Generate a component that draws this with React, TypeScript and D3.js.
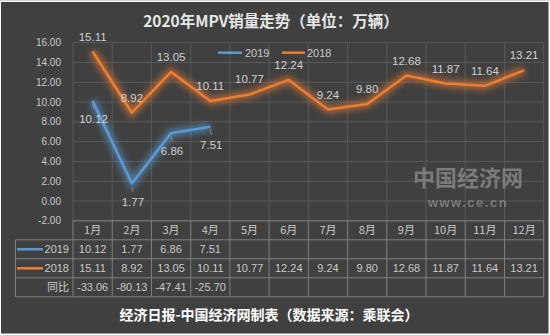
import React from 'react';
import * as d3 from 'd3';

const months = ['1月', '2月', '3月', '4月', '5月', '6月', '7月', '8月', '9月', '10月', '11月', '12月'];
const v2019 = [10.12, 1.77, 6.86, 7.51];
const v2018 = [15.11, 8.92, 13.05, 10.11, 10.77, 12.24, 9.24, 9.8, 12.68, 11.87, 11.64, 13.21];
const yoy = [-33.06, -80.13, -47.41, -25.7];
const yTicks = [-2, 0, 2, 4, 6, 8, 10, 12, 14, 16];
const seriesNames = ['2019', '2018'];
const title = '2020年MPV销量走势（单位：万辆）';
const footer = '经济日报-中国经济网制表（数据来源：乘联会）';

const W = 550, H = 336;
const BLUE = '#5b9bd5', ORANGE = '#ed7d31';
const numFont = '"Liberation Sans", Arial, sans-serif';
const cjkFont = '"Noto Sans CJK SC", sans-serif';

export default function App() {
  const x = d3.scaleBand<string>().domain(months).range([73, 543.7]);
  const y = d3.scaleLinear().domain([-2, 16]).range([220.8, 42.7]);
  const cx = (i: number) => (x(months[i]) as number) + x.bandwidth() / 2;
  const line = d3.line<number>().x((_, i) => cx(i)).y(d => y(d));
  const fmt = (v: number) => v.toFixed(2);
  const rowH = 19;
  const tTop = y(-2);
  const tLeft = 15.5;
  const tRight = 543.7;
  const grid = '#595959';
  const tblLine = '#7f7f7f';
  const txt = '#c9c9c9';

  return (
    <div style={{ position: 'fixed', left: 0, top: 0 }}>
      <svg width={W} height={H} style={{ display: 'block' }}>
        <defs>
          <filter id="glow" x="-20%" y="-20%" width="140%" height="140%">
            <feGaussianBlur stdDeviation="3" />
          </filter>
        </defs>
        <rect x={0} y={0} width={W} height={H} fill="#ffffff" />
        <line x1={0} x2={W} y1={0.5} y2={0.5} stroke="#d0d0d0" />
        <line x1={0} x2={W} y1={335.5} y2={335.5} stroke="#d0d0d0" />
        <rect x={1} y={2} width={547.5} height={331.5} fill="#404040" />

        <text x={271} y={27} textAnchor="middle" fontFamily={cjkFont} fontWeight="bold" fontSize={15.5} fill="#e6e6e6">{title}</text>

        {/* grid */}
        {yTicks.map(t => (
          <line key={'h' + t} x1={73} x2={tRight} y1={y(t)} y2={y(t)} stroke={grid} strokeWidth={1} />
        ))}
        {d3.range(13).map(i => {
          const xv = 73 + i * x.bandwidth();
          return <line key={'v' + i} x1={xv} x2={xv} y1={y(16)} y2={tTop} stroke={grid} strokeWidth={1} />;
        })}
        {yTicks.map(t => (
          <text key={'yt' + t} x={61} y={y(t)} dy="0.35em" textAnchor="end" fontFamily={numFont} fontSize={10} fill={txt}>{fmt(t)}</text>
        ))}

        {/* legend */}
        <line x1={218} x2={242} y1={52.7} y2={52.7} stroke={BLUE} strokeWidth={2.5} />
        <text x={245} y={52.7} dy="0.35em" fontFamily={numFont} fontSize={11} fill={txt}>{seriesNames[0]}</text>
        <line x1={282} x2={305} y1={52.7} y2={52.7} stroke={ORANGE} strokeWidth={2.5} />
        <text x={307} y={52.7} dy="0.35em" fontFamily={numFont} fontSize={11} fill={txt}>{seriesNames[1]}</text>

        {/* lines with glow */}
        <path d={line(v2018) || ''} fill="none" stroke={ORANGE} strokeWidth={8} opacity={0.6} filter="url(#glow)" />
        <path d={line(v2019) || ''} fill="none" stroke={BLUE} strokeWidth={8} opacity={0.6} filter="url(#glow)" />
        <path d={line(v2018) || ''} fill="none" stroke={ORANGE} strokeWidth={2.5} strokeLinejoin="round" />
        <path d={line(v2019) || ''} fill="none" stroke={BLUE} strokeWidth={2.5} strokeLinejoin="round" />

        {/* labels */}
        {v2018.map((v, i) => (
          <text key={'l18' + i} x={cx(i)} y={y(v) - 15} dy="0.35em" textAnchor="middle" fontFamily={numFont} fontSize={11.5} fill="#d0d0d0">{fmt(v)}</text>
        ))}
        {v2019.map((v, i) => (
          <g key={'l19' + i}>
            <line x1={cx(i)} x2={cx(i) + 1} y1={y(v) + 3} y2={y(v) + 8} stroke="#8c8c8c" strokeWidth={1} />
            <text x={cx(i) + 1} y={y(v) + 18} dy="0.35em" textAnchor="middle" fontFamily={numFont} fontSize={11.5} fill="#d0d0d0">{fmt(v)}</text>
          </g>
        ))}

        {/* watermark */}
        <text x={468} y={186} textAnchor="middle" fontFamily={cjkFont} fontWeight="bold" fontSize={22} fill="#8a8a8a" opacity={0.8}>中国经济网</text>
        <text x={468} y={207} textAnchor="middle" fontFamily={numFont} fontWeight="bold" fontSize={13} letterSpacing={1.5} fill="#8a8a8a" opacity={0.8}>www.ce.cn</text>

        {/* table */}
        <g stroke={tblLine} strokeWidth={1}>
          <line x1={73} x2={tRight} y1={tTop} y2={tTop} />
          {d3.range(1, 5).map(r => (
            <line key={'tr' + r} x1={tLeft} x2={tRight} y1={tTop + r * rowH} y2={tTop + r * rowH} />
          ))}
          <line x1={tLeft} x2={tLeft} y1={tTop + rowH} y2={tTop + 4 * rowH} />
          {d3.range(13).map(i => {
            const xv = 73 + i * x.bandwidth();
            return <line key={'tc' + i} x1={xv} x2={xv} y1={tTop} y2={tTop + 4 * rowH} />;
          })}
        </g>
        {months.map((m, i) => (
          <text key={'m' + i} x={cx(i)} y={tTop + rowH / 2} dy="0.35em" textAnchor="middle" fontFamily={cjkFont} fontSize={11} fill={txt}>{m}</text>
        ))}
        <line x1={17} x2={43} y1={tTop + rowH * 1.5} y2={tTop + rowH * 1.5} stroke={BLUE} strokeWidth={2.5} />
        <text x={69} y={tTop + rowH * 1.5} dy="0.35em" textAnchor="end" fontFamily={numFont} fontSize={11} fill={txt}>{seriesNames[0]}</text>
        <line x1={17} x2={43} y1={tTop + rowH * 2.5} y2={tTop + rowH * 2.5} stroke={ORANGE} strokeWidth={2.5} />
        <text x={69} y={tTop + rowH * 2.5} dy="0.35em" textAnchor="end" fontFamily={numFont} fontSize={11} fill={txt}>{seriesNames[1]}</text>
        <text x={69} y={tTop + rowH * 3.5} dy="0.35em" textAnchor="end" fontFamily={cjkFont} fontSize={11} fill={txt}>同比</text>
        {v2019.map((v, i) => (
          <text key={'t19' + i} x={cx(i)} y={tTop + rowH * 1.5} dy="0.35em" textAnchor="middle" fontFamily={numFont} fontSize={11} fill={txt}>{fmt(v)}</text>
        ))}
        {v2018.map((v, i) => (
          <text key={'t18' + i} x={cx(i)} y={tTop + rowH * 2.5} dy="0.35em" textAnchor="middle" fontFamily={numFont} fontSize={11} fill={txt}>{fmt(v)}</text>
        ))}
        {yoy.map((v, i) => (
          <text key={'ty' + i} x={cx(i)} y={tTop + rowH * 3.5} dy="0.35em" textAnchor="middle" fontFamily={numFont} fontSize={11} fill={txt}>{fmt(v)}</text>
        ))}

        <text x={269} y={320} textAnchor="middle" fontFamily={cjkFont} fontWeight="bold" fontSize={14} fill="#ffffff">{footer}</text>
      </svg>
    </div>
  );
}
